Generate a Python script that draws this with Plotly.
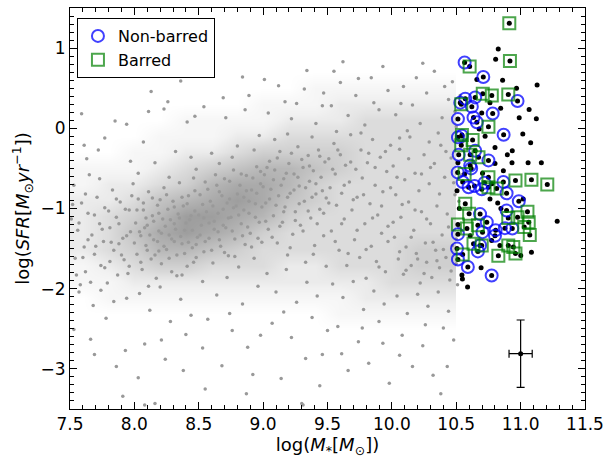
import plotly.graph_objects as go

# ---------------- data ----------------
# Non-barred galaxies (blue circles)
nonbarred_x = [10.565, 10.71, 10.531, 10.57, 10.647, 10.621, 10.513, 10.634, 10.66, 10.783,
               10.976, 10.868, 10.513, 10.544, 10.519, 10.647, 10.75, 10.608, 10.511, 10.616,
               10.55, 10.596, 10.642, 10.698, 10.719, 10.866, 10.891, 10.986, 10.891, 10.685,
               10.737, 10.704, 10.513, 10.801, 10.878, 10.935, 10.806, 10.685, 10.668, 10.506,
               10.513, 10.59, 10.775]
nonbarred_y = [0.82, 0.64, 0.32, 0.37, 0.385, 0.27, 0.115, 0.135, 0.075, 0.185,
               0.34, -0.08, -0.113, -0.092, -0.33, -0.28, -0.40, -0.465, -0.55, -0.50,
               -0.67, -0.735, -0.72, -0.76, -0.68, -0.67, -0.81, -0.91, -1.025, -1.07,
               -1.17, -1.295, -1.32, -1.34, -1.245, -1.25, -1.27, -1.46, -1.535, -1.50,
               -1.635, -1.73, -1.835]

# Barred galaxies (green squares)
barred_x = [10.912, 10.604, 10.917, 10.706, 10.776, 10.904, 10.539, 10.75, 10.544, 10.627,
            10.539, 10.608, 10.673, 10.565, 10.75, 10.96, 11.084, 11.207, 10.75, 10.814,
            10.57, 10.60, 11.053, 10.976, 10.904, 10.668, 10.513, 10.583, 11.063, 11.028,
            11.071, 10.634, 10.698, 10.904, 10.943, 10.96, 10.55, 10.827]
barred_y = [1.31, 0.77, 0.84, 0.43, 0.41, 0.42, 0.30, 0.02, -0.085, -0.145,
            -0.21, -0.33, -0.36, -0.57, -0.61, -0.65, -0.64, -0.70, -0.735, -0.75,
            -0.94, -1.065, -1.04, -1.11, -1.12, -1.21, -1.20, -1.25, -1.17, -1.23,
            -1.33, -1.44, -1.46, -1.46, -1.48, -1.56, -1.575, -1.59]

# Other massive galaxies of the sample (black dots only)
other_x = [10.826, 10.806, 10.66, 10.86, 11.128, 10.968, 10.845, 10.762, 11.066, 10.698,
           10.989, 11.122, 10.678, 10.724, 11.017, 11.078, 10.801, 10.935, 10.897, 10.801,
           10.933, 11.058, 11.161, 10.513, 10.866, 10.704, 10.506, 10.776, 10.762, 11.02,
           10.822, 10.524, 10.847, 11.284, 10.608, 10.775, 10.839, 11.084, 11.001, 10.693,
           10.544, 10.548, 10.588]
other_y = [0.99, 0.86, 0.61, 0.60, 0.54, 0.50, 0.25, 0.32, 0.235, 0.19,
           0.13, 0.12, -0.01, -0.10, -0.07, -0.18, -0.24, -0.28, -0.33, -0.44,
           -0.43, -0.43, -0.43, -0.43, -0.53, -0.56, -0.78, -0.69, -0.88, -0.88,
           -0.93, -1.00, -1.00, -1.16, -1.34, -1.40, -1.46, -1.545, -1.585, -1.74,
           -1.83, -1.88, -1.98]

# Comparison sample (grey cloud): individual points, estimated
gray_x = [
    7.51, 7.53, 7.54, 7.56, 7.57, 7.59, 7.61, 7.62, 7.64, 7.65, 7.67, 7.68, 7.69, 7.71, 7.73,
    7.74, 7.76, 7.77, 7.79, 7.81, 7.83, 7.84, 7.86, 7.87, 7.89, 7.91, 7.92, 7.94, 7.96, 7.97,
    7.99, 7.53, 7.66, 7.78, 7.93, 7.59, 7.72, 7.85, 7.97, 7.63, 7.58, 7.81, 7.74, 7.88, 7.95,
    8.01, 8.02, 8.03, 8.05, 8.06, 8.07, 8.09, 8.10, 8.11, 8.13, 8.14, 8.15, 8.17, 8.18, 8.19,
    8.21, 8.22, 8.23, 8.25, 8.26, 8.27, 8.29, 8.30, 8.31, 8.33, 8.34, 8.35, 8.37, 8.38, 8.39,
    8.41, 8.42, 8.43, 8.45, 8.46, 8.47, 8.49, 8.04, 8.12, 8.20, 8.28, 8.36, 8.44, 8.08, 8.24,
    8.40, 8.16, 8.32, 8.48, 8.07, 8.23, 8.41, 8.13, 8.36, 8.03, 8.27, 8.44, 8.19, 8.31, 8.09,
    8.37, 8.48,
    8.51, 8.52, 8.54, 8.55, 8.56, 8.58, 8.59, 8.61, 8.62, 8.63, 8.65, 8.66, 8.67, 8.69, 8.70,
    8.71, 8.73, 8.74, 8.75, 8.77, 8.78, 8.79, 8.81, 8.82, 8.83, 8.85, 8.86, 8.87, 8.89, 8.90,
    8.91, 8.93, 8.94, 8.95, 8.97, 8.98, 8.99, 8.53, 8.64, 8.72, 8.84, 8.96, 8.57, 8.76, 8.88,
    8.68, 8.92, 8.60, 8.71, 8.80, 8.89, 8.97, 8.54, 8.66, 8.84, 8.76, 8.93,
    9.01, 9.02, 9.04, 9.05, 9.06, 9.08, 9.09, 9.11, 9.12, 9.13, 9.15, 9.16, 9.17, 9.19, 9.20,
    9.21, 9.23, 9.24, 9.25, 9.27, 9.28, 9.29, 9.31, 9.32, 9.33, 9.35, 9.36, 9.37, 9.39, 9.40,
    9.41, 9.43, 9.44, 9.45, 9.47, 9.48, 9.49, 9.03, 9.10, 9.18, 9.26, 9.34, 9.42, 9.07, 9.22,
    9.38, 9.46, 9.14, 9.30, 9.04, 9.12, 9.19, 9.26, 9.34, 9.41, 9.47, 9.09, 9.38, 9.22,
    9.51, 9.52, 9.53, 9.55, 9.56, 9.57, 9.59, 9.60, 9.61, 9.63, 9.64, 9.65, 9.67, 9.68, 9.69,
    9.71, 9.72, 9.73, 9.75, 9.76, 9.77, 9.79, 9.80, 9.81, 9.83, 9.84, 9.85, 9.87, 9.88, 9.89,
    9.91, 9.92, 9.93, 9.95, 9.96, 9.97, 9.99, 9.54, 9.62, 9.70, 9.78, 9.86, 9.94, 9.58, 9.74,
    9.90, 9.66, 9.82, 9.98, 9.53, 9.60, 9.66, 9.72, 9.79, 9.84, 9.90, 9.97, 9.62, 9.86, 9.57,
    10.01, 10.02, 10.03, 10.05, 10.06, 10.07, 10.09, 10.10, 10.11, 10.13, 10.14, 10.15, 10.17,
    10.18, 10.19, 10.21, 10.22, 10.23, 10.25, 10.26, 10.27, 10.29, 10.30, 10.31, 10.33, 10.34,
    10.35, 10.37, 10.38, 10.39, 10.41, 10.42, 10.43, 10.45, 10.46, 10.47, 10.49, 10.50, 10.52,
    10.54, 10.04, 10.12, 10.20, 10.28, 10.36, 10.44, 10.08, 10.24, 10.40, 10.16, 10.32, 10.48,
    10.03, 10.09, 10.16, 10.22, 10.27, 10.33, 10.39, 10.44, 10.50, 10.12, 10.36, 10.19, 10.47,
    7.91, 8.08, 8.16, 9.31, 8.55,
    7.52, 7.55, 7.57, 7.60, 7.62, 7.64, 7.66, 7.69, 7.70, 7.73, 7.75, 7.77, 7.80, 7.82, 7.84,
    7.86, 7.88, 7.90, 7.93, 7.94, 7.96, 7.98,
    8.00, 8.02, 8.04, 8.05, 8.07, 8.08, 8.10, 8.11, 8.12, 8.14, 8.15, 8.16, 8.18, 8.19, 8.20,
    8.21, 8.23, 8.24, 8.25, 8.27, 8.28, 8.29, 8.31, 8.32, 8.33, 8.35, 8.36, 8.37, 8.39, 8.40,
    8.41, 8.42, 8.44, 8.45, 8.46, 8.47, 8.48, 8.50,
    8.51, 8.53, 8.54, 8.55, 8.57, 8.58, 8.60, 8.61, 8.62, 8.64, 8.65, 8.66, 8.68, 8.69, 8.70,
    8.72, 8.73, 8.74, 8.76, 8.77, 8.78, 8.80, 8.81, 8.83, 8.84, 8.85, 8.87, 8.88, 8.89, 8.91,
    8.92, 8.94, 8.95, 8.96, 8.98, 8.99,
    9.00, 9.02, 9.03, 9.05, 9.07, 9.08, 9.10, 9.11, 9.13, 9.14, 9.16, 9.18, 9.19, 9.21, 9.22,
    9.24, 9.25, 9.27, 9.28, 9.30, 9.31, 9.33, 9.35, 9.36, 9.38, 9.39, 9.41, 9.42, 9.44, 9.46,
    9.47, 9.49,
    9.51, 9.54, 9.56, 9.58, 9.61, 9.63, 9.66, 9.68, 9.70, 9.73, 9.76, 9.78, 9.80, 9.82, 9.85,
    9.87, 9.90, 9.92, 9.95, 9.97, 9.99,
    10.01, 10.04, 10.06, 10.08, 10.11, 10.13, 10.15, 10.18, 10.20, 10.23, 10.25, 10.27, 10.30,
    10.32, 10.35, 10.37, 10.40, 10.42, 10.44, 10.46, 10.48, 10.50, 10.52, 10.53, 10.55, 10.51,
    10.49, 10.53,
    9.55, 9.74, 9.93, 10.07, 10.24, 10.41, 9.46, 9.32, 9.17, 9.01, 8.86, 8.69, 8.57, 8.47, 8.26,
    8.11, 7.94, 7.77, 7.61, 10.29, 10.06,
    7.69, 7.86, 8.03, 8.21, 8.38, 8.53, 8.74, 8.98, 9.16, 9.33, 9.50, 9.61, 9.77, 9.93, 10.06,
    10.26, 10.43, 10.38, 9.44, 8.87]
gray_y = [
    -1.13, -0.71, -1.62, -1.27, -2.04, -0.93, -1.48, -1.79, -1.06, -0.58, -1.33, -2.21, -1.57, -0.86, -1.19,
    -1.71, -1.41, -0.99, -1.93, -1.24, -0.77, -1.52, -1.11, -1.83, -0.92, -1.37, -1.64, -2.12, -1.02, -1.29,
    -0.69, -2.51, -2.63, -2.37, -2.77, 0.18, -0.27, 0.09, -0.41, -0.38, -1.95, -1.66, -2.02, -1.44, -1.81,
    -1.18, -1.57, -0.88, -1.34, -1.76, -1.02, -1.46, -1.21, -0.79, -1.63, -1.09, -1.39, -1.87, -0.96, -1.28,
    -1.69, -1.13, -0.74, -1.51, -1.01, -1.33, -1.79, -0.91, -1.19, -1.58, -1.07, -0.68, -1.44, -0.97, -1.27,
    -1.72, -0.84, -1.14, -1.49, -0.62, -1.03, -1.36, -2.06, -2.27, -1.98, -2.41, -2.13, -2.33, -2.69, -2.88,
    -2.57, -0.43, -0.29, -0.51, -0.17, 0.24, 0.08, 0.46, 0.59, -0.56, -0.61, -0.36, -1.53, -1.41, -1.12,
    -1.83, -1.61,
    -0.83, -1.21, -1.54, -0.67, -1.04, -1.37, -0.91, -1.68, -1.16, -0.58, -1.29, -0.79, -1.47, -1.01, -0.63,
    -1.24, -1.59, -0.88, -1.11, -0.52, -1.38, -0.97, -1.73, -0.71, -1.19, -0.86, -1.45, -0.59, -1.06, -1.31,
    -0.77, -1.62, -0.94, -0.48, -1.17, -0.69, -1.42, -1.91, -2.08, -1.86, -2.19, -1.97, -2.38, -2.52, -2.73,
    -2.96, -3.07, -0.31, 0.13, -0.22, 0.41, -0.09, 0.27, -0.44, 0.64, -0.36, -0.27,
    -0.58, -0.93, -1.26, -0.41, -0.76, -1.09, -0.52, -1.43, -0.84, -0.29, -1.17, -0.63, -0.98, -1.58, -0.44,
    -0.81, -1.32, -0.57, -1.04, -0.23, -0.72, -1.21, -0.49, -0.91, -1.67, -0.34, -0.66, -1.12, -0.53, -1.46,
    -0.82, -0.27, -1.01, -0.61, -1.34, -0.42, -0.87, -1.81, -2.04, -1.76, -2.17, -1.92, -2.09, -2.43, -2.61,
    -2.36, -2.82, -3.12, -3.43, 0.19, 0.53, -0.07, 0.31, 0.72, 0.06, 0.44, -0.14, -0.11, 0.12,
    -0.38, -0.74, -1.28, -0.19, -0.57, -0.96, -1.52, -0.33, -0.81, -1.13, -0.46, -1.71, -0.67, -0.08, -1.02,
    -1.39, -0.51, -0.86, -1.61, -0.27, -0.62, -1.19, -1.87, -0.43, -0.94, -1.47, -0.14, -0.71, -1.66, -1.08,
    -0.36, -1.31, -0.79, -1.79, -0.54, -1.22, -0.21, -1.94, -2.11, -1.91, -2.26, -2.03, -2.19, -2.47, -2.66,
    -2.41, -3.02, -2.93, -3.18, 0.28, 0.57, 0.16, 0.41, 0.04, 0.63, 0.23, 0.47, 0.83, 0.32, -0.04,
    -0.47, -1.36, -0.83, -1.63, -0.26, -1.11, -1.82, -0.64, -1.48, -0.92, -0.11, -1.71, -1.27,
    -0.56, -1.56, -0.78, -1.93, -1.04, -0.33, -1.43, -1.67, -0.69, -1.19, -1.86, -0.44, -1.52,
    -0.97, -1.74, -0.21, -1.33, -0.61, -1.61, -1.07, -1.89, -0.37, -1.46, -0.83, -1.69, -1.24,
    -0.58, -2.09, -2.31, -2.07, -2.22, -2.04, -2.28, -2.58, -2.71, -2.49, -2.97, -3.08, -2.64,
    0.17, 0.52, 0.29, 0.06, 0.44, 0.71, 0.13, 0.36, 0.02, -0.03, -0.06, 0.63, 0.58,
    -3.34, -3.45, -3.43, -3.45, -3.25,
    -0.95, -1.83, -1.18, -1.61, -0.82, -1.39, -1.92, -1.08, -1.47, -0.63, -1.26, -1.74, -1.03, -1.42, -2.16,
    -0.88, -1.19, -1.58, -1.01, -1.34, -1.72, -0.84,
    -1.43, -1.02, -1.29, -1.67, -0.93, -1.24, -1.52, -1.97, -1.33, -0.87, -1.16, -1.58, -1.41, -1.06, -0.89,
    -1.31, -1.47, -1.22, -0.83, -1.62, -1.14, -1.38, -0.98, -1.26, -1.84, -1.12, -1.35, -0.86, -1.56, -1.18,
    -0.94, -1.42, -1.09, -1.27, -1.67, -0.78, -1.45, -1.08,
    -1.33, -0.95, -1.12, -1.41, -0.76, -1.18, -1.52, -0.97, -1.26, -0.71, -1.06, -1.39, -0.84, -1.21, -1.55,
    -0.93, -1.12, -0.66, -1.28, -0.99, -1.60, -0.82, -1.08, -0.57, -1.34, -1.02, -0.78, -1.23, -0.91, -1.48,
    -0.62, -1.11, -0.81, -1.37, -0.54, -0.98,
    -0.73, -1.16, -0.49, -0.88, -1.36, -0.64, -0.96, -0.37, -1.22, -0.71, -1.04, -0.56, -0.86, -1.49, -0.31,
    -0.77, -1.15, -0.61, -0.94, -0.39, -1.28, -0.74, -1.03, -0.47, -0.86, -1.57, -0.69, -1.19, -0.35, -0.78,
    -1.06, -1.72,
    -0.93, -0.51, -1.41, -0.27, -1.19, -0.71, -1.56, -0.42, -0.89, -1.27, -0.06, -0.83, -1.51, -0.31, -1.12,
    -0.49, -1.73, -0.97, -0.29, -1.41, -0.74,
    -1.17, -0.61, -1.54, -0.95, -1.77, -0.38, -1.36, -1.02, -1.63, -0.57, -1.81, -1.13, -0.49,
    -1.42, -1.65, -0.82, -1.51, -0.29, -1.23, -1.78, -0.68, -1.38, -0.91, -1.57, -0.17, -1.95,
    0.21, 0.41,
    0.71, 0.62, 0.77, 0.31, 0.81, 0.52, 0.28, 0.49, 0.33, 0.61, 0.23, 0.38, 0.71, 0.15, 0.33,
    0.21, 0.05, -0.12, -0.21, -0.17, -0.12,
    -2.82, -2.97, -3.11, -2.64, -3.02, -2.74, -2.31, -2.58, -2.29, -2.87, -2.52, -2.81, -2.49, -2.68, -2.83,
    -2.45, -2.97, -3.31, -3.21, -3.31]

# Density of the grey cloud (0 = empty, 8 = nearly solid), read per 0.2 x 0.2 cell
cloud_x = [7.6, 7.8, 8.0, 8.2, 8.4, 8.6, 8.8, 9.0, 9.2, 9.4, 9.6, 9.8, 10.0, 10.2, 10.4]
cloud_y = [0.9, 0.7, 0.5, 0.3, 0.1, -0.1, -0.3, -0.5, -0.7, -0.9, -1.1, -1.3, -1.5, -1.7, -1.9,
           -2.1, -2.3, -2.5, -2.7]
cloud_density = [
    [0, 0, 0, 0, 0, 0, 0, 0, 0, 0, 0, 0, 0, 0, 0],
    [0, 0, 0, 0, 0, 0, 0, 0, 0, 0, 0, 0, 0, 0, 0],
    [0, 0, 0, 0, 0, 0, 0, 0, 0, 1, 1, 1, 1, 1, 1],
    [0, 0, 0, 0, 0, 0, 0, 1, 1, 1, 2, 2, 2, 2, 2],
    [0, 0, 0, 0, 1, 1, 1, 1, 2, 2, 2, 3, 3, 3, 3],
    [0, 0, 0, 1, 1, 1, 2, 2, 3, 3, 3, 3, 3, 3, 3],
    [0, 0, 1, 1, 2, 2, 3, 4, 4, 4, 4, 3, 3, 3, 3],
    [1, 1, 1, 2, 3, 4, 5, 6, 6, 5, 4, 3, 3, 3, 3],
    [1, 2, 2, 3, 4, 6, 7, 7, 6, 4, 3, 3, 3, 3, 3],
    [2, 2, 3, 5, 6, 7, 8, 7, 5, 4, 3, 3, 3, 3, 3],
    [2, 3, 4, 6, 8, 8, 7, 6, 4, 3, 3, 3, 3, 3, 3],
    [2, 3, 5, 7, 8, 7, 6, 4, 3, 3, 3, 3, 3, 3, 3],
    [2, 3, 4, 6, 6, 5, 4, 3, 3, 3, 3, 3, 3, 4, 4],
    [1, 2, 3, 4, 4, 3, 3, 3, 2, 2, 3, 3, 3, 4, 4],
    [1, 1, 2, 2, 2, 2, 2, 2, 2, 2, 2, 2, 3, 3, 3],
    [0, 1, 1, 1, 1, 1, 1, 1, 1, 1, 1, 2, 2, 2, 2],
    [0, 0, 0, 0, 0, 0, 0, 0, 0, 0, 1, 1, 1, 1, 1],
    [0, 0, 0, 0, 0, 0, 0, 0, 0, 0, 0, 0, 0, 0, 0],
    [0, 0, 0, 0, 0, 0, 0, 0, 0, 0, 0, 0, 0, 0, 0],
]

# Typical uncertainty
err_x = [11.0]
err_y = [-2.81]
err_dx = [0.09]
err_dy = [0.42]

# ---------------- figure ----------------
FONT = "DejaVu Sans"
fig = go.Figure()

fig.add_trace(go.Heatmap(
    x=cloud_x, y=cloud_y[::-1], z=cloud_density[::-1],
    zmin=0, zmax=8, zsmooth="best",
    colorscale=[[0, "#ffffff"], [0.2, "#f1f1f1"], [0.4, "#d9d9d9"], [0.7, "#bcbcbc"], [1, "#9e9e9e"]],
    showscale=False, hoverinfo="skip", showlegend=False))

fig.add_trace(go.Scatter(
    x=gray_x, y=gray_y, mode="markers", showlegend=False,
    marker=dict(color="#999999", size=3.5, line=dict(width=0))))

fig.add_trace(go.Scatter(
    x=nonbarred_x + barred_x + other_x, y=nonbarred_y + barred_y + other_y,
    mode="markers", showlegend=False,
    marker=dict(color="black", size=5, line=dict(width=0))))

fig.add_trace(go.Scatter(
    x=nonbarred_x, y=nonbarred_y, mode="markers", name="Non-barred",
    marker=dict(symbol="circle-open", color="rgba(0,0,255,0.75)", size=12,
                line=dict(width=2))))

fig.add_trace(go.Scatter(
    x=barred_x, y=barred_y, mode="markers", name="Barred",
    marker=dict(symbol="square-open", color="rgba(0,128,0,0.7)", size=12,
                line=dict(width=2))))

fig.add_trace(go.Scatter(
    x=err_x, y=err_y, mode="markers", showlegend=False,
    marker=dict(color="black", size=5),
    error_x=dict(type="data", array=err_dx, color="black", thickness=1.2, width=4),
    error_y=dict(type="data", array=err_dy, color="black", thickness=1.2, width=4)))

axis_common = dict(
    showline=True, linecolor="black", linewidth=1, mirror="allticks",
    ticks="inside", ticklen=7, tickwidth=1, tickcolor="black",
    showgrid=False, zeroline=False,
    tickfont=dict(family=FONT, size=17, color="black"),
)

fig.update_layout(
    width=611, height=458,
    margin=dict(l=70, r=22, t=7, b=49),
    paper_bgcolor="white", plot_bgcolor="white",
    font=dict(family=FONT, color="black"),
    xaxis=dict(range=[7.5, 11.5], tick0=7.5, dtick=0.5, tickformat=".1f",
               minor=dict(dtick=0.1, ticks="inside", ticklen=4, tickcolor="black"),
               title=dict(text="log(<i>M</i><sub>*</sub>[<i>M</i><sub>⊙</sub>])",
                          font=dict(family=FONT, size=18), standoff=4),
               **axis_common),
    yaxis=dict(range=[-3.5, 1.5], tick0=0, dtick=1,
               minor=dict(dtick=0.1, ticks="inside", ticklen=4, tickcolor="black"),
               title=dict(text="log(<i>SFR</i>[<i>M</i><sub>⊙</sub><i>yr</i><sup>−1</sup>])",
                          font=dict(family=FONT, size=18), standoff=6),
               **axis_common),
    legend=dict(x=0.0135, y=0.975, xanchor="left", yanchor="top",
                bgcolor="white", bordercolor="black", borderwidth=1,
                font=dict(family=FONT, size=16), itemsizing="constant",
                tracegroupgap=0),
    showlegend=True,
)

fig.write_html("out.html")
